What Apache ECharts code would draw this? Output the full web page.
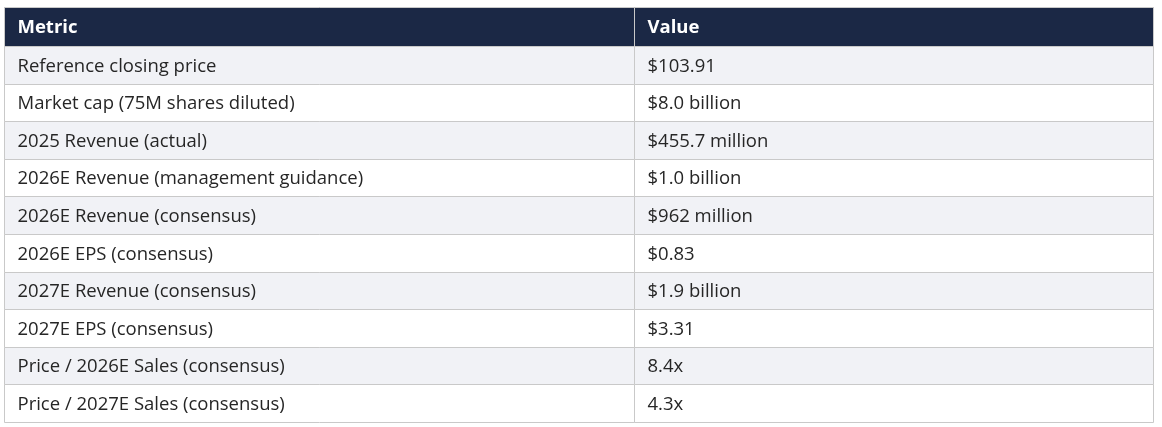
<!DOCTYPE html>
<html>
<head>
<meta charset="utf-8">
<script src="https://cdn.jsdelivr.net/npm/echarts@6/dist/echarts.min.js"></script>
<style>html,body{margin:0;padding:0;background:#fff;}#c{width:1162px;height:427px;}</style>
</head>
<body>
<div id="c"></div>
<script>
var headers = ['Metric', 'Value'];
var metrics = [
  'Reference closing price',
  'Market cap (75M shares diluted)',
  '2025 Revenue (actual)',
  '2026E Revenue (management guidance)',
  '2026E Revenue (consensus)',
  '2026E EPS (consensus)',
  '2027E Revenue (consensus)',
  '2027E EPS (consensus)',
  'Price / 2026E Sales (consensus)',
  'Price / 2027E Sales (consensus)'
];
var values = [
  '$103.91',
  '$8.0 billion',
  '$455.7 million',
  '$1.0 billion',
  '$962 million',
  '$0.83',
  '$1.9 billion',
  '$3.31',
  '8.4x',
  '4.3x'
];

// layout
var colEdges = [0, 630, 1149];
var headerH = 39, bodyH = 37.6;
var rowEdges = [0, headerH];
for (var i = 0; i < metrics.length; i++) rowEdges.push(headerH + bodyH * (i + 1));
var FONT = '"Open Sans"';

var cells = [];
for (var c = 0; c < 2; c++) cells.push([c, 0, headers[c]]);
for (var r = 0; r < metrics.length; r++) {
  cells.push([0, r + 1, metrics[r]]);
  cells.push([1, r + 1, values[r]]);
}

var chart = echarts.init(document.getElementById('c'), null, {renderer: 'canvas'});
chart.setOption({
  backgroundColor: '#ffffff',
  animation: false,
  grid: {left: 5, right: 8, top: 8, bottom: 4},
  xAxis: {type: 'value', min: 0, max: colEdges[2], show: false},
  yAxis: {type: 'value', min: 0, max: rowEdges[rowEdges.length - 1], inverse: true, show: false},
  series: [{
    type: 'custom',
    data: cells,
    clip: false,
    renderItem: function (params, api) {
      var col = api.value(0), row = api.value(1);
      var text = cells[params.dataIndex][2];
      var p0 = api.coord([colEdges[col], rowEdges[row]]);
      var p1 = api.coord([colEdges[col + 1], rowEdges[row + 1]]);
      var x = Math.round(p0[0]) - 0.5, y = Math.round(p0[1]) - 0.5;
      var w = Math.round(p1[0]) - Math.round(p0[0]);
      var h = Math.round(p1[1]) - Math.round(p0[1]);
      var isHeader = row === 0;
      var fill = isHeader ? '#1b2845' : (row % 2 === 1 ? '#f1f2f6' : '#ffffff');
      return {
        type: 'group',
        children: [
          {type: 'rect', shape: {x: x, y: y, width: w, height: h},
           style: {fill: fill, stroke: '#c9c9c9', lineWidth: 1}},
          {type: 'text', x: x + 13, y: y + h / 2 + 1,
           style: {text: text, fill: isHeader ? '#ffffff' : '#262626',
                   font: (isHeader ? 'bold ' : '') + '18.5px ' + FONT,
                   verticalAlign: 'middle', align: 'left'}}
        ]
      };
    }
  }]
});
</script>
</body>
</html>
